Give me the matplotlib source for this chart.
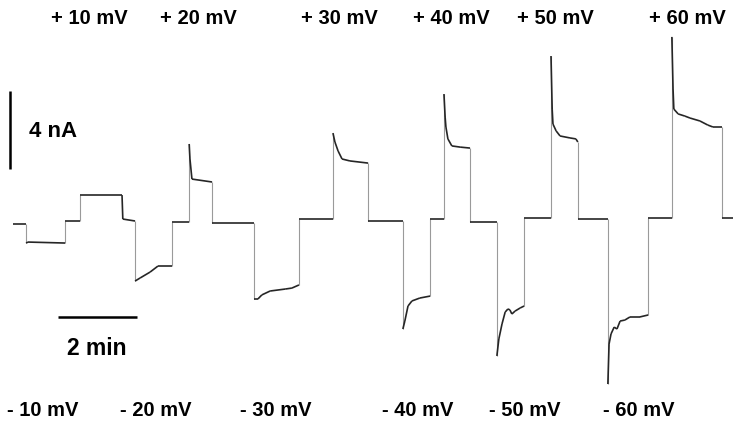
import numpy as np
import matplotlib
matplotlib.use('Agg')
import matplotlib.pyplot as plt
from matplotlib.collections import LineCollection

# --------------------------
# 数据：电流记录 (时间 min, 电流 nA)
# --------------------------
time_min = [0.00, 0.33, 0.33, 0.38, 1.32, 1.32, 1.70, 1.70, 2.76, 2.78,
            3.09, 3.09, 3.22, 3.47, 3.67, 4.03, 4.03, 4.46, 4.46, 4.48,
            4.53, 5.04, 5.04, 6.10, 6.10, 6.20, 6.30, 6.51, 6.89, 7.06,
            7.24, 7.24, 8.10, 8.10, 8.15, 8.23, 8.33, 8.53, 8.99, 8.99,
            9.87, 9.87, 9.92, 10.00, 10.10, 10.30, 10.56, 10.56, 10.91, 10.91,
            10.94, 10.96, 11.01, 11.11, 11.32, 11.57, 11.57, 12.25, 12.25, 12.30,
            12.38, 12.46, 12.53, 12.58, 12.63, 12.71, 12.84, 12.94, 12.94, 13.62,
            13.62, 13.65, 13.67, 13.75, 13.85, 14.10, 14.25, 14.30, 14.30, 15.06,
            15.06, 15.09, 15.14, 15.22, 15.29, 15.37, 15.49, 15.62, 15.87, 16.08,
            16.08, 16.68, 16.68, 16.71, 16.73, 16.84, 17.01, 17.14, 17.39, 17.59,
            17.72, 17.95, 17.95, 18.23]
current_nA = [-0.15, -0.15, -1.13, -1.08, -1.13, 0.00, 0.00, 1.33, 1.33, 0.10,
              0.00, -3.08, -2.92, -2.62, -2.31, -2.31, -0.05, -0.05, 3.95, 3.18,
              2.15, 2.00, -0.10, -0.10, -4.00, -4.00, -3.79, -3.59, -3.49, -3.44,
              -3.28, 0.10, 0.10, 4.51, 4.05, 3.59, 3.18, 3.08, 2.97, 0.00,
              0.00, -5.54, -5.13, -4.36, -4.10, -3.95, -3.85, 0.10, 0.10, 6.51,
              5.33, 4.82, 4.21, 3.85, 3.79, 3.74, -0.05, -0.05, -6.92, -6.05,
              -5.28, -4.67, -4.51, -4.56, -4.77, -4.62, -4.46, -4.36, 0.15, 0.15,
              8.46, 5.74, 4.97, 4.62, 4.36, 4.26, 4.21, 4.05, 0.10, 0.10,
              -8.36, -6.31, -5.79, -5.44, -5.54, -5.13, -5.08, -4.92, -4.92, -4.82,
              0.15, 0.15, 9.44, 6.77, 5.74, 5.49, 5.38, 5.28, 5.13, 4.92,
              4.82, 4.82, 0.15, 0.15]

# 电压标签
pos_labels = ['+ 10 mV', '+ 20 mV', '+ 30 mV', '+ 40 mV', '+ 50 mV', '+ 60 mV']
neg_labels = ['- 10 mV', '- 20 mV', '- 30 mV', '- 40 mV', '- 50 mV', '- 60 mV']
pos_label_x = [89, 198, 339, 451, 555, 687]   # 像素位置
neg_label_x = [43, 156, 276, 418, 525, 639]

# 标尺
scale_nA = 4
scale_min = 2

W, H = 735, 431
px_per_min = 39.5
px_per_nA = 19.5
x0_px, base_px = 13, 222

plt.rcParams['font.family'] = ['Liberation Sans', 'DejaVu Sans']
fig = plt.figure(figsize=(W / 100, H / 100), dpi=100)
ax = fig.add_axes([0, 0, 1, 1])
ax.set_xlim(-x0_px / px_per_min, (W - x0_px) / px_per_min)
ax.set_ylim(-(H - base_px) / px_per_nA, base_px / px_per_nA)
ax.axis('off')

t = np.array(time_min)
i = np.array(current_nA)
pts = np.column_stack([t, i])
segs = np.stack([pts[:-1], pts[1:]], axis=1)
fast = np.abs(np.diff(t)) < 0.005  # 快速跳变画成浅灰细线
colors = ['#9a9a9a' if f else '#262626' for f in fast]
widths = [0.8 if f else 1.2 for f in fast]
order = np.argsort(~fast)  # 先画浅色
lc = LineCollection(segs[order], colors=[colors[k] for k in order],
                    linewidths=[widths[k] for k in order], capstyle='butt', joinstyle='miter')
ax.add_collection(lc)

# 标尺
sx = (10 - x0_px) / px_per_min
sy = (base_px - 170) / px_per_nA
ax.plot([sx, sx], [sy, sy + scale_nA], color='black', lw=1.8, solid_capstyle='butt')
ax.text(sx + 0.48, sy + 1.98, f'{scale_nA} nA', fontsize=16, fontweight='bold', va='center', ha='left')

hx = (58 - x0_px) / px_per_min
hy = (base_px - 318) / px_per_nA
ax.plot([hx, hx + scale_min], [hy, hy], color='black', lw=1.8, solid_capstyle='butt')
ax.text(hx + scale_min / 2 - 0.02, hy - 1.55, f'{scale_min} min', fontsize=16.5, fontweight='bold',
        va='center', ha='center')

for lab, x in zip(pos_labels, pos_label_x):
    fig.text(x / W, 1 - 18 / H, lab, fontsize=14.5, fontweight='bold', ha='center', va='center')
for lab, x in zip(neg_labels, neg_label_x):
    fig.text(x / W, 1 - 411 / H, lab, fontsize=14.5, fontweight='bold', ha='center', va='center')

fig.savefig('out.png', dpi=100, facecolor='white')
